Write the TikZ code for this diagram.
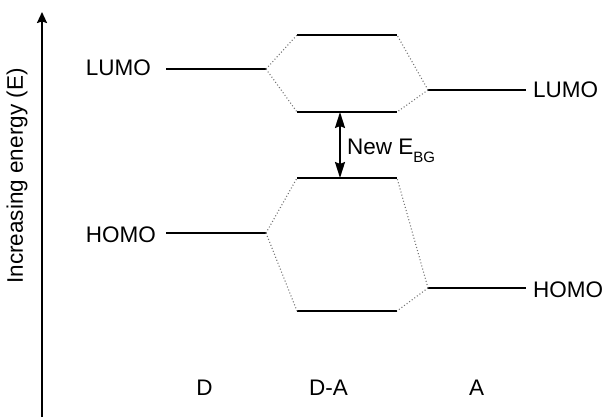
\documentclass[tikz,border=0pt]{standalone}
\usepackage{fontspec}
\setmainfont{Liberation Sans}
\usetikzlibrary{arrows.meta}
\begin{document}
\begin{tikzpicture}[x=1pt,y=-1pt,
  lvl/.style={line width=2.2pt},
  conn/.style={line width=1.1pt, black!55, dash pattern=on 1pt off 2.2pt},
  lab/.style={inner sep=0pt, font=\fontsize{22.5}{27}\selectfont},
  axis/.style={line width=2pt, -{Stealth[length=11pt,width=10pt,inset=1.5pt]}},
  gap/.style={line width=2pt, {Stealth[length=16pt,width=10pt,inset=2pt]}-{Stealth[length=16pt,width=10pt,inset=2pt]}}]
\useasboundingbox (0,0) rectangle (604,417);
% axis
\coordinate (ax0) at (42,417);
\coordinate (ax1) at (42,12);
\draw[axis] (ax0) -- (ax1);
\node[lab, rotate=90] (ylab) at (17,176) {Increasing energy (E)};
% D levels
\coordinate (dl1) at (166,69); \coordinate (dl2) at (266,69);
\coordinate (dh1) at (166,233); \coordinate (dh2) at (266,233);
\draw[lvl] (dl1) -- (dl2);
\draw[lvl] (dh1) -- (dh2);
\node[lab, anchor=base east] (dlumo) at (151,76) {LUMO};
\node[lab, anchor=base east] (dhomo) at (156,242) {HOMO};
% D-A levels
\coordinate (t1) at (297,35);  \coordinate (t2) at (397,35);
\coordinate (l1) at (297,112); \coordinate (l2) at (397,112);
\coordinate (h1) at (297,178); \coordinate (h2) at (397,178);
\coordinate (b1) at (297,311); \coordinate (b2) at (397,311);
\draw[lvl] (t1) -- (t2);
\draw[lvl] (l1) -- (l2);
\draw[lvl] (h1) -- (h2);
\draw[lvl] (b1) -- (b2);
% A levels
\coordinate (al1) at (428,90);  \coordinate (al2) at (526,90);
\coordinate (ah1) at (428,288); \coordinate (ah2) at (526,288);
\draw[lvl] (al1) -- (al2);
\draw[lvl] (ah1) -- (ah2);
\node[lab, anchor=base west] (alumo) at (533,98) {LUMO};
\node[lab, anchor=base west] (ahomo) at (533,297) {HOMO};
% correlation lines
\draw[conn] (dl2) -- (t1);
\draw[conn] (dl2) -- (l1);
\draw[conn] (al1) -- (t2);
\draw[conn] (al1) -- (l2);
\draw[conn] (dh2) -- (h1);
\draw[conn] (dh2) -- (b1);
\draw[conn] (ah1) -- (h2);
\draw[conn] (ah1) -- (b2);
% band gap arrow
\coordinate (g1) at (340,112); \coordinate (g2) at (340,178);
\draw[gap] (g1) -- (g2);
\node[lab, anchor=base west] (ebg) at (347,154) {New E\raisebox{-8pt}{\fontsize{15}{18}\selectfont BG}};
% bottom labels
\node[lab, anchor=base] (dlab) at (204.5,395) {D};
\node[lab, anchor=base] (dalab) at (328.5,395) {D-A};
\node[lab, anchor=base] (alab) at (476.5,395) {A};
\end{tikzpicture}
\end{document}
